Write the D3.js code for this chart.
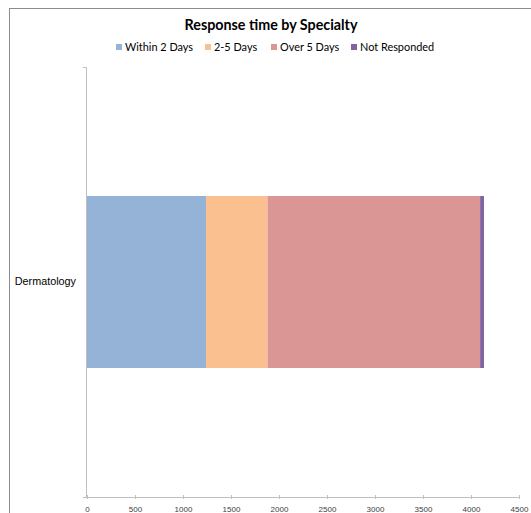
<!DOCTYPE html>
<html>
<head>
<meta charset="utf-8">
<script src="https://cdn.jsdelivr.net/npm/d3@7"></script>
<style>
  html, body { margin: 0; padding: 0; background: #fff; }
  svg { display: block; font-family: Lato, "Open Sans", sans-serif; }
</style>
</head>
<body>
<svg id="chart" width="531" height="513"></svg>
<script>
// Response time counts per specialty, stacked by bucket
const categories = ["Dermatology"];
const seriesNames = ["Within 2 Days", "2-5 Days", "Over 5 Days", "Not Responded"];
const seriesColors = ["#95b3d7", "#fac090", "#d99694", "#8064a2"];
const within2 = [1240];
const days2to5 = [640];
const over5 = [2215];
const notResponded = [40];
const xTicks = [0, 500, 1000, 1500, 2000, 2500, 3000, 3500, 4000, 4500];

const rows = categories.map((c, i) => ({
  category: c,
  "Within 2 Days": within2[i],
  "2-5 Days": days2to5[i],
  "Over 5 Days": over5[i],
  "Not Responded": notResponded[i]
}));

const svg = d3.select("#chart");
const W = 531, H = 513;
const plot = { left: 87, right: 519, top: 67, bottom: 497 };

// outer chart frame
svg.append("rect")
  .attr("x", 9.5).attr("y", 8.5)
  .attr("width", W + 10).attr("height", H + 10)
  .attr("fill", "none").attr("stroke", "#8c8c8c").attr("stroke-width", 1);

const x = d3.scaleLinear().domain([0, 4500]).range([plot.left, plot.right]);
const y = d3.scaleBand().domain(categories).range([plot.top, plot.bottom]).paddingInner(0.6).paddingOuter(0.3);

const stack = d3.stack().keys(seriesNames);
const layers = stack(rows);

svg.append("g").selectAll("g")
  .data(layers)
  .join("g")
  .attr("fill", (d, i) => seriesColors[i])
  .selectAll("rect")
  .data(d => d)
  .join("rect")
  .attr("x", d => x(d[0]))
  .attr("y", d => y(d.data.category))
  .attr("width", d => x(d[1]) - x(d[0]))
  .attr("height", y.bandwidth());

// x axis
const xAxis = svg.append("g")
  .attr("transform", `translate(0,${plot.bottom})`)
  .call(d3.axisBottom(x).tickValues(xTicks).tickFormat(d3.format("d")).tickSize(3).tickSizeOuter(0));
xAxis.select(".domain").attr("stroke", "#bfbfbf").attr("d", `M${plot.left - 4},0.5H${plot.right}`);
xAxis.selectAll(".tick line").attr("stroke", "#bfbfbf").attr("y1", -2).attr("y2", 2);
xAxis.selectAll(".tick text")
  .attr("y", 9).attr("fill", "#404040")
  .style("font-size", "8px");

// y axis
const yAxis = svg.append("g")
  .attr("transform", `translate(${plot.left - 1},0)`)
  .call(d3.axisLeft(y).tickSize(0).tickSizeOuter(3));
yAxis.select(".domain").attr("stroke", "#bfbfbf");
yAxis.selectAll(".tick text")
  .attr("x", -10).attr("fill", "#000")
  .style("font-size", "10.8px");

// title
svg.append("text")
  .attr("x", 271).attr("y", 30)
  .attr("text-anchor", "middle")
  .style("font-size", "14.3px").style("font-weight", "bold")
  .text("Response time by Specialty");

// legend
const legendX = [116, 205, 271, 351];
const legend = svg.append("g");
seriesNames.forEach((name, i) => {
  const g = legend.append("g").attr("transform", `translate(${legendX[i]},51)`);
  g.append("rect").attr("x", 0).attr("y", -7).attr("width", 6).attr("height", 6).attr("fill", seriesColors[i]);
  g.append("text").attr("x", 9).attr("y", 0).style("font-size", "10.9px").attr("fill", "#000").text(name);
});
</script>
</body>
</html>
